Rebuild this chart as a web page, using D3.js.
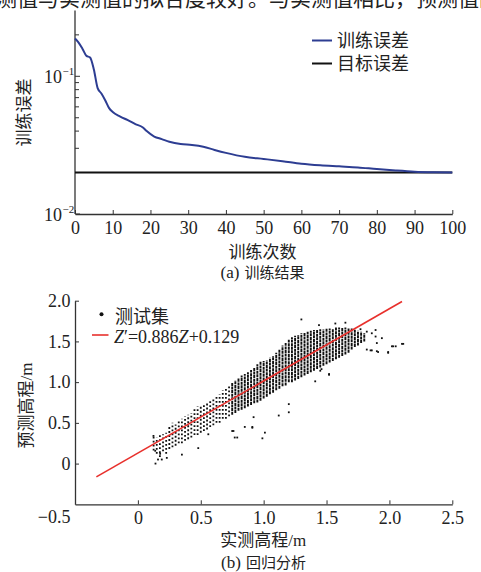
<!DOCTYPE html>
<html>
<head>
<meta charset="utf-8">
<script src="https://cdn.jsdelivr.net/npm/d3@7"></script>
<style>
  body { margin: 0; background: #fff; }
  svg { display: block; }
  text, tspan { font-family: "Liberation Serif", "DejaVu Serif", "Times New Roman", serif; fill: #222; }
  text.cjk, tspan.cjk { font-family: "Noto Sans CJK SC", "Noto Sans", sans-serif; }
</style>
</head>
<body>
<svg id="fig" width="481" height="572"></svg>
<script>
// ---------- (a) training curve ----------
const epochs   = [0, 1, 2, 3, 4, 5, 6, 7, 8, 9, 10, 12, 14, 16, 18, 19, 21, 23, 25, 28, 31, 34, 37, 40, 45, 50, 55, 60, 65, 70, 75, 80, 85, 90, 95, 100];
const trainErr = [0.188, 0.175, 0.158, 0.141, 0.137, 0.112, 0.082, 0.075, 0.067, 0.059, 0.055, 0.051, 0.048, 0.045, 0.0425, 0.040, 0.0365, 0.035, 0.0335, 0.0322, 0.0317, 0.0308, 0.0292, 0.0278, 0.026, 0.0251, 0.0242, 0.0232, 0.0226, 0.0222, 0.0218, 0.0212, 0.0207, 0.0203, 0.0201, 0.0200];
const targetErr = 0.02;
const epochTicks = [0, 10, 20, 30, 40, 50, 60, 70, 80, 90, 100];
const errMajorTicks = [0.01, 0.1];
const errMinorTicks = [0.02, 0.03, 0.04, 0.05, 0.06, 0.07, 0.08, 0.09, 0.2];
const legendA = ["训练误差", "目标误差"];

// ---------- (b) regression ----------
const slope = 0.886, intercept = 0.129;
const fitRange = [-0.33, 2.1];
const zTicks  = [0, 0.5, 1.0, 1.5, 2.0, 2.5];
const zpTicks = [0, 0.5, 1.0, 1.5, 2.0];
// columns of test points at each measured elevation: [Z, lowest Z', highest Z']
const sparseCols = [
  [0.125, 0.16, 0.34], [0.15, 0.12, 0.32], [0.175, 0.08, 0.35], [0.2, 0.15, 0.36], [0.225, 0.12, 0.38],
  [0.25, 0.18, 0.45], [0.275, 0.2, 0.5], [0.3, 0.22, 0.48], [0.325, 0.25, 0.52], [0.35, 0.25, 0.55],
  [0.375, 0.28, 0.58], [0.4, 0.3, 0.6], [0.425, 0.32, 0.62], [0.45, 0.35, 0.68], [0.475, 0.35, 0.7],
  [0.5, 0.38, 0.7], [0.525, 0.4, 0.72], [0.55, 0.42, 0.75], [0.575, 0.45, 0.78], [0.6, 0.47, 0.8],
  [0.625, 0.5, 0.82], [0.65, 0.5, 0.85], [0.675, 0.55, 0.9], [0.7, 0.55, 0.92], [0.725, 0.58, 0.95]
];
const denseCols = [
  [0.75, 0.6, 1.0], [0.775, 0.62, 1.02], [0.8, 0.65, 1.05], [0.825, 0.66, 1.08], [0.85, 0.68, 1.1],
  [0.875, 0.7, 1.12], [0.9, 0.72, 1.15], [0.925, 0.74, 1.18], [0.95, 0.75, 1.22], [0.975, 0.77, 1.25],
  [1.0, 0.8, 1.26], [1.025, 0.82, 1.27], [1.05, 0.85, 1.3], [1.075, 0.87, 1.32], [1.1, 0.9, 1.36],
  [1.125, 0.92, 1.4], [1.15, 0.95, 1.45], [1.175, 0.96, 1.48], [1.2, 1.0, 1.52], [1.225, 1.0, 1.55],
  [1.25, 1.02, 1.57], [1.275, 1.04, 1.58], [1.3, 1.06, 1.6], [1.325, 1.08, 1.61], [1.35, 1.1, 1.62],
  [1.375, 1.12, 1.63], [1.4, 1.14, 1.64], [1.425, 1.16, 1.64], [1.45, 1.18, 1.65], [1.475, 1.2, 1.65],
  [1.5, 1.22, 1.66], [1.525, 1.24, 1.66], [1.55, 1.26, 1.66], [1.575, 1.28, 1.67], [1.6, 1.3, 1.67],
  [1.625, 1.32, 1.67], [1.65, 1.34, 1.67], [1.675, 1.36, 1.66], [1.7, 1.4, 1.66], [1.725, 1.43, 1.65],
  [1.75, 1.45, 1.63], [1.775, 1.48, 1.62], [1.8, 1.5, 1.6]
];
// isolated test points: [Z, Z']
const loosePoints = [
  [0.124, 0.34], [0.138, 0.157], [0.14, 0.0], [0.16, 0.05], [0.177, 0.12], [0.19, 0.05], [0.23, 0.07],
  [0.35, 0.11], [0.48, 0.19], [0.56, 0.36], [0.75, 0.4], [0.76, 0.4], [0.77, 0.32], [0.79, 0.32],
  [0.85, 0.45], [0.91, 0.45], [0.91, 0.44], [0.92, 0.57], [0.99, 0.31], [1.01, 0.38], [1.12, 0.59],
  [1.2, 0.63], [1.2, 0.73], [1.3, 1.77], [1.44, 1.70], [1.57, 1.72], [1.65, 1.73], [1.52, 1.10],
  [1.45, 1.14], [1.41, 1.01], [1.46, 1.16], [1.52, 1.09], [1.82, 1.40], [1.86, 1.39], [1.91, 1.37],
  [1.99, 1.37], [1.99, 1.36], [2.03, 1.44], [2.02, 1.44], [2.05, 1.44], [2.11, 1.47], [2.10, 1.47],
  [1.94, 1.54], [1.89, 1.64], [1.86, 1.6], [1.89, 1.56], [1.9, 1.48], [1.82, 1.62], [1.77, 1.65],
  [1.9, 1.38], [1.85, 1.39]
];
const legendB = ["测试集"];

const svg = d3.select("#fig");
const axisColor = "#333";
const serif = '"Liberation Serif", "DejaVu Serif", serif';

// clipped line of running text above the figure
svg.append("text").attr("class", "cjk").attr("x", -4).attr("y", 6)
  .attr("font-size", 21).attr("fill", "#222")
  .text("测值与实测值的拟合度较好。与实测值相比，预测值的");

function styleAxis(ax) {
  ax.attr("font-family", null);
  ax.select(".domain").attr("stroke", axisColor).attr("stroke-width", 1.3);
  ax.selectAll(".tick line").attr("stroke", axisColor).attr("stroke-width", 1);
  ax.selectAll(".tick text").attr("font-size", 18).attr("fill", "#222")
    .style("font-family", serif);
}

// ===== panel (a) =====
const xA = d3.scaleLinear().domain([0, 100]).range([75, 452.3]);
const yA = d3.scaleLog().domain([0.01, 0.3]).range([214, 10.6]);
const gA = svg.append("g");

const axA = gA.append("g").attr("transform", "translate(0,214)")
  .call(d3.axisBottom(xA).tickValues(epochTicks).tickSizeInner(-4).tickSizeOuter(0).tickPadding(7));
styleAxis(axA);

gA.append("line").attr("x1", 75).attr("x2", 75).attr("y1", yA(0.3)).attr("y2", yA(0.01))
  .attr("stroke", axisColor).attr("stroke-width", 1.3);
gA.selectAll(".minorA").data(errMinorTicks).join("line")
  .attr("x1", 75).attr("x2", 79).attr("y1", d => yA(d)).attr("y2", d => yA(d))
  .attr("stroke", axisColor).attr("stroke-width", 1);
gA.selectAll(".majorA").data(errMajorTicks).join("line")
  .attr("x1", 75).attr("x2", 80).attr("y1", d => yA(d)).attr("y2", d => yA(d))
  .attr("stroke", axisColor).attr("stroke-width", 1);
errMajorTicks.forEach(d => {
  gA.append("text").attr("x", 62).attr("y", yA(d) + 6.5).attr("text-anchor", "end")
    .attr("font-size", 18).style("font-family", serif).text("10");
  gA.append("text").attr("x", 62.5).attr("y", yA(d) - 1).attr("font-size", 11)
    .style("font-family", serif).text("\u2212" + Math.round(-Math.log10(d)));
});

// target error and training error
gA.append("line").attr("x1", xA(0)).attr("x2", xA(100))
  .attr("y1", yA(targetErr)).attr("y2", yA(targetErr))
  .attr("stroke", "#111").attr("stroke-width", 2);
gA.append("path").datum(epochs.map((e, i) => [e, trainErr[i]]))
  .attr("fill", "none").attr("stroke", "#2d3d92").attr("stroke-width", 2)
  .attr("d", d3.line().x(d => xA(d[0])).y(d => yA(d[1])).curve(d3.curveMonotoneX));

// legend (a)
const legColA = ["#2d3d92", "#111"];
legendA.forEach((name, i) => {
  const y = 40.5 + i * 23;
  gA.append("line").attr("x1", 312).attr("x2", 332).attr("y1", y).attr("y2", y)
    .attr("stroke", legColA[i]).attr("stroke-width", 2);
  gA.append("text").attr("class", "cjk").attr("x", 337).attr("y", y + 6.5)
    .attr("font-size", 18).attr("fill", "#333").text(name);
});

gA.append("text").attr("class", "cjk").attr("x", 262.5).attr("y", 257.5)
  .attr("text-anchor", "middle").attr("font-size", 17).attr("fill", "#333").text("训练次数");
gA.append("text").attr("class", "cjk").attr("transform", "translate(29.5,112.5) rotate(-90)")
  .attr("text-anchor", "middle").attr("font-size", 17).attr("fill", "#333").text("训练误差");
const capA = gA.append("text").attr("x", 262.5).attr("y", 278).attr("text-anchor", "middle")
  .attr("font-size", 15).attr("fill", "#333");
capA.append("tspan").attr("font-size", 17).style("font-family", serif).text("(a)");
capA.append("tspan").attr("class", "cjk").attr("dx", 5).text("训练结果");

// ===== panel (b) =====
const xB = d3.scaleLinear().domain([-0.5, 2.5]).range([75, 452.3]);
const yB = d3.scaleLinear().domain([-0.5, 2.0]).range([504.3, 300.7]);
const gB = svg.append("g");

const axBx = gB.append("g").attr("transform", "translate(0,504.3)")
  .call(d3.axisBottom(xB).tickValues(zTicks).tickSizeInner(-4).tickSizeOuter(0).tickPadding(6.5)
    .tickFormat(d => d === 0 ? "0" : d3.format(".1f")(d)));
styleAxis(axBx);
gB.append("text").attr("x", 70.5).attr("y", 523).attr("text-anchor", "end")
  .attr("font-size", 18).style("font-family", serif).text("\u22120.5");

const axBy = gB.append("g").attr("transform", "translate(75,0)")
  .call(d3.axisLeft(yB).tickValues(zpTicks).tickSizeInner(-4).tickSizeOuter(0).tickPadding(4.5)
    .tickFormat(d => d === 0 ? "0" : d3.format(".1f")(d)));
styleAxis(axBy);

// test points
gB.selectAll(".sc").data(sparseCols).join("line")
  .attr("x1", d => xB(d[0])).attr("x2", d => xB(d[0]))
  .attr("y1", d => yB(d[1])).attr("y2", d => yB(d[2]))
  .attr("stroke", "#111").attr("stroke-width", 1.8).attr("stroke-dasharray", "1.8 2.2");
gB.selectAll(".dc").data(denseCols).join("line")
  .attr("x1", d => xB(d[0])).attr("x2", d => xB(d[0]))
  .attr("y1", d => yB(d[1])).attr("y2", d => yB(d[2]))
  .attr("stroke", "#111").attr("stroke-width", 1.9).attr("stroke-dasharray", "3 0.6");
gB.selectAll(".lp").data(loosePoints).join("rect")
  .attr("x", d => xB(d[0]) - 0.9).attr("y", d => yB(d[1]) - 0.9)
  .attr("width", 1.8).attr("height", 1.8).attr("fill", "#111");

// regression line
gB.append("line")
  .attr("x1", xB(fitRange[0])).attr("y1", yB(slope * fitRange[0] + intercept))
  .attr("x2", xB(fitRange[1])).attr("y2", yB(slope * fitRange[1] + intercept))
  .attr("stroke", "#e8302c").attr("stroke-width", 1.6);

// legend (b)
gB.append("circle").attr("cx", 101.5).attr("cy", 314.3).attr("r", 2).attr("fill", "#111");
gB.append("text").attr("class", "cjk").attr("x", 115).attr("y", 322.5)
  .attr("font-size", 18).attr("fill", "#333").text(legendB[0]);
gB.append("line").attr("x1", 92).attr("x2", 108.5).attr("y1", 335).attr("y2", 335)
  .attr("stroke", "#e8302c").attr("stroke-width", 1.6);
const eq = gB.append("text").attr("x", 114).attr("y", 343).attr("font-size", 18)
  .style("font-family", serif);
eq.append("tspan").attr("font-style", "italic").text("Z");
eq.append("tspan").text("\u2032=" + slope);
eq.append("tspan").attr("font-style", "italic").text("Z");
eq.append("tspan").text("+" + intercept);

const labX = gB.append("text").attr("x", 263.3).attr("y", 545.5).attr("text-anchor", "middle")
  .attr("font-size", 17).attr("fill", "#333");
labX.append("tspan").attr("class", "cjk").text("实测高程");
labX.append("tspan").style("font-family", serif).text("/m");
const labY = gB.append("text").attr("transform", "translate(32,405.5) rotate(-90)")
  .attr("text-anchor", "middle").attr("font-size", 17).attr("fill", "#333");
labY.append("tspan").attr("class", "cjk").text("预测高程");
labY.append("tspan").style("font-family", serif).text("/m");
const capB = gB.append("text").attr("x", 263.5).attr("y", 568).attr("text-anchor", "middle")
  .attr("font-size", 15).attr("fill", "#333");
capB.append("tspan").attr("font-size", 17).style("font-family", serif).text("(b)");
capB.append("tspan").attr("class", "cjk").attr("dx", 5).text("回归分析");
</script>
</body>
</html>
